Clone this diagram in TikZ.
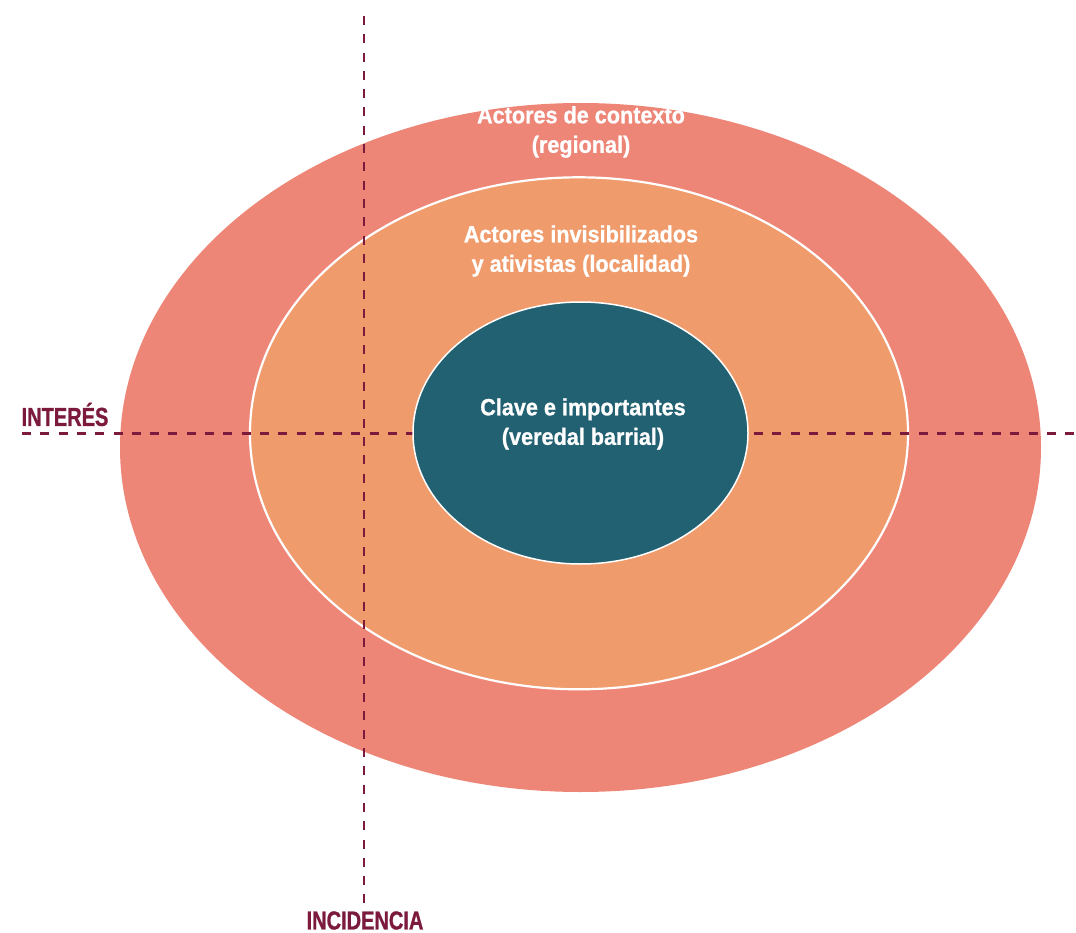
\documentclass[tikz,border=0pt]{standalone}
\usepackage{fontspec}
\newfontfamily\ringfont{Liberation Sans}[FakeStretch=0.92,FakeBold=0.9]
\newfontfamily\axisfont{Liberation Sans}[FakeStretch=0.77,FakeBold=0.9]
\definecolor{outerred}{HTML}{EE8678}
\definecolor{midorange}{HTML}{F09B6C}
\definecolor{coreteal}{HTML}{226171}
\definecolor{axisred}{HTML}{7B1A3C}
\begin{document}
\begin{tikzpicture}[x=1pt,y=-1pt,
    ringtext/.style={text=white,align=center,font=\ringfont\bfseries\fontsize{23.5}{29.5}\selectfont},
    axislabel/.style={text=axisred,font=\axisfont\bfseries\fontsize{26}{28}\selectfont},
    axisline/.style={axisred,line width=2.3pt,dash pattern=on 9pt off 9.3pt}]
  \useasboundingbox (0,0) rectangle (1076,933);
  \fill[outerred] (580.5,447.5) ellipse (460.5 and 344.5);
  \filldraw[fill=midorange,draw=white,line width=2.2pt] (579,433.3) ellipse (329 and 256);
  \coordinate (itop) at (364,16);
  \coordinate (ibot) at (364,904);
  \coordinate (ileft) at (22,433.5);
  \coordinate (iright) at (1076,433.5);
  \draw[axisline] (itop) -- (ibot);
  \draw[axisline] (ileft) -- (iright);
  \filldraw[fill=coreteal,draw=white,line width=1.5pt] (580.5,433) ellipse (167.5 and 131);
  \node[ringtext] (contexto) at (581,132) {Actores de contexto\\(regional)};
  \node[ringtext] (localidad) at (581,251) {Actores invisibilizados\\y ativistas (localidad)};
  \node[ringtext] (clave) at (583,424) {Clave e importantes\\(veredal barrial)};
  \node[axislabel] (interes) at (65,414.5) {INTERÉS};
  \node[axislabel] (incidencia) at (365,920.5) {INCIDENCIA};
\end{tikzpicture}
\end{document}
